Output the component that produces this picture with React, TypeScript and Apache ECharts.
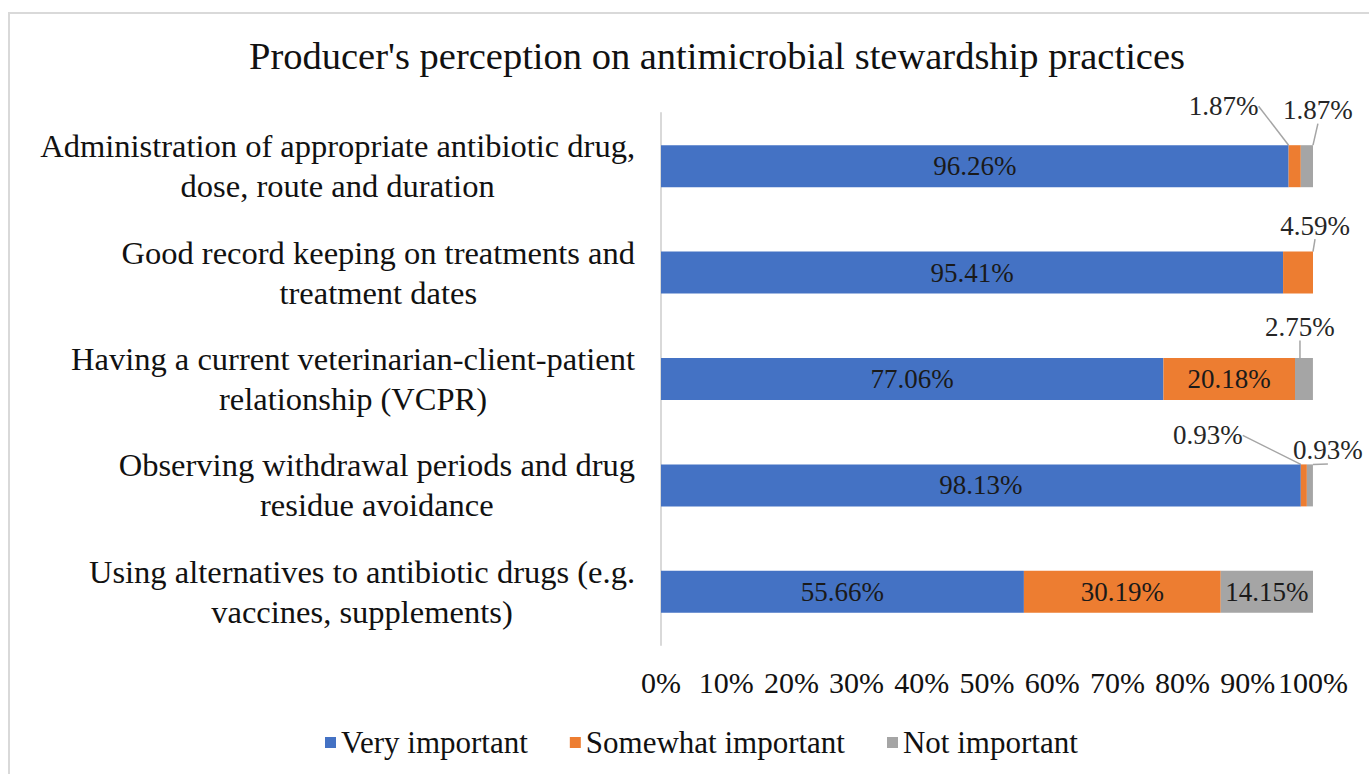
import React, { useEffect, useRef } from "react";
import * as echarts from "echarts";

const titleText = "Producer's perception on antimicrobial stewardship practices";
const categories = [
  "Administration of appropriate antibiotic drug,\ndose, route and duration",
  "Good record keeping on treatments and\ntreatment dates",
  "Having a current veterinarian-client-patient\nrelationship (VCPR)",
  "Observing withdrawal periods and drug\nresidue avoidance",
  "Using alternatives to antibiotic drugs (e.g.\nvaccines, supplements)",
];
const seriesNames = ["Very important", "Somewhat important", "Not important"];
const veryImportant = [96.26, 95.41, 77.06, 98.13, 55.66];
const somewhatImportant = [1.87, 4.59, 20.18, 0.93, 30.19];
const notImportant = [1.87, 0, 2.75, 0.93, 14.15];
const tickValues = [0, 10, 20, 30, 40, 50, 60, 70, 80, 90, 100];

const colors = ["#4472C4", "#ED7D31", "#A5A5A5"];
const FONT = "'Liberation Serif', 'Times New Roman', serif";

// callout label offsets (pixels) for small segments
const calloutOffsets: Record<number, Record<number, [number, number]>> = {
  0: {},
  1: { 0: [-71, -60], 1: [17, -47], 3: [-96, -50] },
  2: { 0: [11, -56], 2: [-4, -52], 3: [18, -35] },
};

export default function App() {
  const ref = useRef<HTMLDivElement>(null);
  useEffect(() => {
    if (!ref.current) return;
    const chart = echarts.init(ref.current, undefined, { renderer: "svg" });
    const allValues = [veryImportant, somewhatImportant, notImportant];
    const series = allValues.map((vals, si) => ({
      name: seriesNames[si],
      type: "bar",
      stack: "total",
      barWidth: 42,
      itemStyle: { color: colors[si] },
      data: vals.map((v, i) => {
        const off = calloutOffsets[si][i];
        return {
          value: v,
          label: {
            show: v > 0,
            position: "inside",
            formatter: (p: any) => Number(p.value).toFixed(2) + "%",
            fontSize: 27,
            fontFamily: FONT,
            color: off ? "#262626" : "#1a1a1a",
          },
          labelLine: off
            ? { show: true, lineStyle: { color: "#A5A5A5", width: 1.5 } }
            : { show: false },
        };
      }),
      labelLayout: (params: any) => {
        const off = calloutOffsets[si][params.dataIndex];
        if (off) return { dx: off[0], dy: off[1], hideOverlap: false };
        return {};
      },
    }));

    chart.setOption({
      animation: false,
      backgroundColor: "#ffffff",
      textStyle: { fontFamily: FONT },
      graphic: [
        {
          type: "rect",
          shape: { x: 9, y: 13, width: 1400, height: 800 },
          style: { fill: "none", stroke: "#d9d9d9", lineWidth: 2 },
          z: -10,
          silent: true,
        },
      ],
      title: {
        text: titleText,
        left: 712,
        textAlign: "center",
        top: 31,
        textStyle: {
          fontFamily: FONT,
          fontWeight: "normal",
          fontSize: 38.5,
          color: "#111",
        },
      },
      legend: {
        data: seriesNames,
        left: 320,
        top: 722,
        icon: "rect",
        itemWidth: 11,
        itemHeight: 11,
        itemGap: 42,
        textStyle: { fontFamily: FONT, fontSize: 31, color: "#111" },
      },
      grid: { left: 661, right: 56, top: 113, bottom: 129, containLabel: false },
      xAxis: {
        type: "value",
        min: tickValues[0],
        max: tickValues[tickValues.length - 1],
        interval: tickValues[1] - tickValues[0],
        axisLine: { show: false },
        axisTick: { show: false },
        splitLine: { show: false },
        axisLabel: {
          formatter: "{value}%",
          fontSize: 30,
          fontFamily: FONT,
          color: "#111",
          margin: 22,
        },
      },
      yAxis: {
        type: "category",
        data: categories,
        inverse: true,
        axisLine: { show: true, lineStyle: { color: "#d9d9d9", width: 2 } },
        axisTick: { show: false },
        axisLabel: {
          interval: 0,
          margin: 26,
          align: "right",
          formatter: (v: string) =>
            v
              .split("\n")
              .map((l) => `{c|${l}}`)
              .join("\n"),
          rich: {
            c: {
              align: "center",
              fontSize: 32.5,
              fontFamily: FONT,
              color: "#111",
              lineHeight: 40,
            },
          },
        },
      },
      series,
    });
    return () => chart.dispose();
  }, []);
  return (
    <div
      ref={ref}
      style={{ position: "fixed", left: 0, top: 0, width: 1369, height: 774 }}
    />
  );
}
